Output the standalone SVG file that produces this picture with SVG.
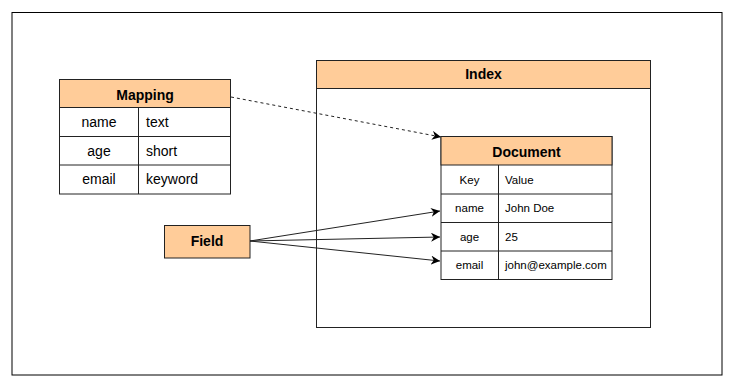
<svg xmlns="http://www.w3.org/2000/svg" width="740" height="384" viewBox="0 0 740 384">
  <style>
    .box { fill: #ffffff; stroke: #222222; stroke-width: 1; }
    .head { fill: #ffcc99; stroke: #222222; stroke-width: 1; }
    .grid { stroke: #222222; stroke-width: 1; fill: none; }
    .title { font-family: "Liberation Sans", Arial, sans-serif; font-size: 14px; font-weight: bold; fill: #000; text-anchor: middle; }
    .cell { font-family: "Liberation Sans", Arial, sans-serif; font-size: 14px; fill: #000; }
    .small { font-family: "Liberation Sans", Arial, sans-serif; font-size: 11.5px; fill: #000; }
    .mid { text-anchor: middle; }
    .link { stroke: #222222; stroke-width: 1; fill: none; }
  </style>
  <defs>
    <marker id="arrow" viewBox="0 0 10 10" refX="10" refY="5" markerWidth="9" markerHeight="9" orient="auto" markerUnits="userSpaceOnUse">
      <path d="M0,0 L10,5 L0,10 L3,5 Z" fill="#000"/>
    </marker>
  </defs>

  <!-- outer frame -->
  <rect x="12" y="12.5" width="710" height="362.5" fill="#ffffff" stroke="#000" stroke-width="1"/>

  <!-- Index container -->
  <g id="index">
    <rect class="box" x="316.5" y="60.5" width="334" height="267"/>
    <rect class="head" x="316.5" y="60.5" width="334" height="28"/>
    <text class="title" x="483.5" y="79">Index</text>
  </g>

  <!-- Mapping table -->
  <g id="mapping">
    <rect class="box" x="59.5" y="79.5" width="171" height="114.5"/>
    <rect class="head" x="59.5" y="79.5" width="171" height="28"/>
    <text class="title" x="145" y="99.5">Mapping</text>
    <path class="grid" d="M59.5,136.5 H230.5 M59.5,165 H230.5 M138.5,107.5 V194"/>
    <text class="cell mid" x="99" y="126.5">name</text>
    <text class="cell" x="146" y="126.5">text</text>
    <text class="cell mid" x="99" y="155.5">age</text>
    <text class="cell" x="146" y="155.5">short</text>
    <text class="cell mid" x="99" y="184">email</text>
    <text class="cell" x="146" y="184">keyword</text>
  </g>

  <!-- Field node -->
  <g id="field">
    <rect class="head" x="164.5" y="225.5" width="85.5" height="32.5"/>
    <text class="title" x="207" y="246">Field</text>
  </g>

  <!-- Document table -->
  <g id="document">
    <rect class="box" x="441" y="136.5" width="171" height="143"/>
    <rect class="head" x="441" y="136.5" width="171" height="28.5"/>
    <text class="title" x="526.5" y="156.5">Document</text>
    <path class="grid" d="M441,194 H612 M441,222.5 H612 M441,251 H612 M498.5,165 V279.5"/>
    <text class="small mid" x="469.5" y="183.5">Key</text>
    <text class="small" x="505" y="183.5">Value</text>
    <text class="small mid" x="469.5" y="212">name</text>
    <text class="small" x="505" y="212">John Doe</text>
    <text class="small mid" x="469.5" y="240.5">age</text>
    <text class="small" x="505" y="240.5">25</text>
    <text class="small mid" x="469.5" y="269">email</text>
    <text class="small" x="505" y="269">john@example.com</text>
  </g>

  <!-- connectors -->
  <g id="connectors">
    <path class="link" d="M231,97 L441,137" stroke-dasharray="3,3" marker-end="url(#arrow)"/>
    <path class="link" d="M250,241 L440,211" marker-end="url(#arrow)"/>
    <path class="link" d="M250,241 L440,237" marker-end="url(#arrow)"/>
    <path class="link" d="M250,241 L440,261" marker-end="url(#arrow)"/>
  </g>
</svg>
